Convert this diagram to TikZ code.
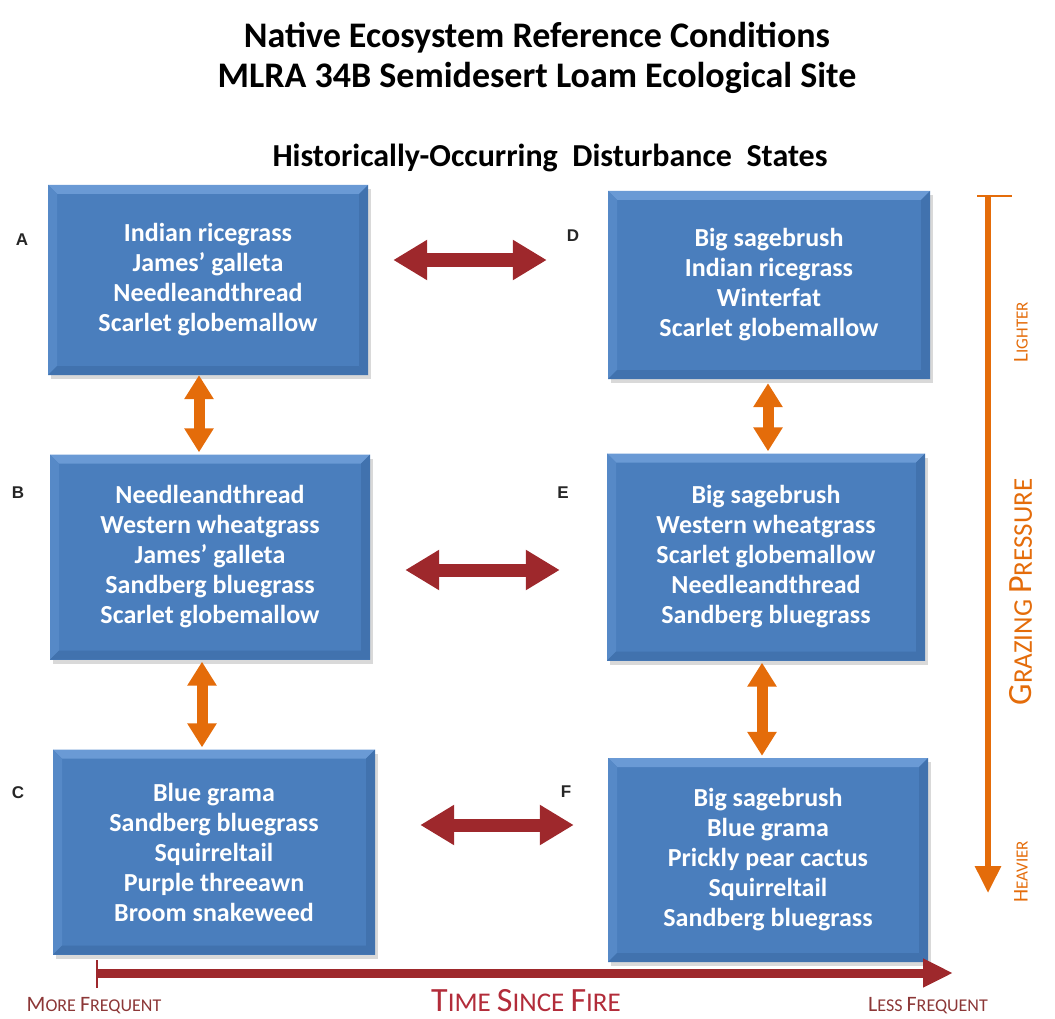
\documentclass[tikz,border=0pt]{standalone}
\usepackage{fontspec}
\setmainfont{Carlito}
\newfontfamily\letterfont{Liberation Sans}
\usetikzlibrary{arrows.meta, shadows, calc, positioning}

\definecolor{boxmid}{RGB}{74,126,189}
\definecolor{boxlight}{RGB}{106,154,213}
\definecolor{boxside}{RGB}{86,137,199}
\definecolor{boxdark}{RGB}{65,114,174}
\definecolor{firered}{RGB}{158,40,44}
\definecolor{firetext}{RGB}{178,44,58}
\definecolor{freqtext}{RGB}{140,55,55}
\definecolor{grazeorange}{RGB}{228,108,10}

% small caps by hand
\newcommand{\capword}[4]{{\fontsize{#1}{#1}\selectfont #3}{\fontsize{#2}{#2}\selectfont #4}}

\tikzset{
  statebox/.style={rectangle, fill=boxmid, text=white, align=center, inner sep=0pt,
    font=\bfseries\fontsize{26}{30}\selectfont,
    drop shadow={shadow xshift=3pt, shadow yshift=-4pt, opacity=0.3},
    path picture={
      \fill[boxlight] (path picture bounding box.north west) -- (path picture bounding box.north east)
        -- ([xshift=-9pt,yshift=-9pt]path picture bounding box.north east) -- ([xshift=9pt,yshift=-9pt]path picture bounding box.north west) -- cycle;
      \fill[boxside] (path picture bounding box.north west) -- (path picture bounding box.south west)
        -- ([xshift=9pt,yshift=9pt]path picture bounding box.south west) -- ([xshift=9pt,yshift=-9pt]path picture bounding box.north west) -- cycle;
      \fill[boxdark] (path picture bounding box.north east) -- (path picture bounding box.south east)
        -- ([xshift=-9pt,yshift=9pt]path picture bounding box.south east) -- ([xshift=-9pt,yshift=-9pt]path picture bounding box.north east) -- cycle;
      \fill[boxdark] (path picture bounding box.south west) -- (path picture bounding box.south east)
        -- ([xshift=-9pt,yshift=9pt]path picture bounding box.south east) -- ([xshift=9pt,yshift=9pt]path picture bounding box.south west) -- cycle;
    }},
  statelabel/.style={font=\letterfont\bfseries\fontsize{17}{17}\selectfont, text=black!85},
  firearrow/.style={draw=firered, line width=13pt, {Triangle[length=34pt,width=38pt]}-{Triangle[length=34pt,width=38pt]}},
  grazearrow/.style={draw=grazeorange, line width=11pt, {Triangle[length=24pt,width=28pt]}-{Triangle[length=24pt,width=28pt]}},
}

\begin{document}
\begin{tikzpicture}[x=1pt, y=-1pt]
    \useasboundingbox (0,0) rectangle (1055,1019);

    % titles
    \node[font=\bfseries\fontsize{36}{40}\selectfont, align=center] (title) at (537,58)
        {Native Ecosystem Reference Conditions\\MLRA 34B Semidesert Loam Ecological Site};
    \node[font=\bfseries\fontsize{32}{32}\selectfont] (subtitle) at (550,158)
        {Historically-Occurring\ \ Disturbance\ \ States};

    % states
    \node[statebox, minimum width=320pt, minimum height=190pt] (boxA) at (208,280)
        {Indian ricegrass\\James’ galleta\\Needleandthread\\Scarlet globemallow};
    \node[statebox, minimum width=320pt, minimum height=205pt] (boxB) at (210,557)
        {Needleandthread\\Western wheatgrass\\James’ galleta\\Sandberg bluegrass\\Scarlet globemallow};
    \node[statebox, minimum width=322pt, minimum height=205pt] (boxC) at (214,852)
        {Blue grama\\Sandberg bluegrass\\Squirreltail\\Purple threeawn\\Broom snakeweed};
    \node[statebox, minimum width=322pt, minimum height=188pt] (boxD) at (769,285)
        {Big sagebrush\\Indian ricegrass\\Winterfat\\Scarlet globemallow};
    \node[statebox, minimum width=318pt, minimum height=207pt] (boxE) at (766,557)
        {Big sagebrush\\Western wheatgrass\\Scarlet globemallow\\Needleandthread\\Sandberg bluegrass};
    \node[statebox, minimum width=320pt, minimum height=204pt] (boxF) at (768,860)
        {Big sagebrush\\Blue grama\\Prickly pear cactus\\Squirreltail\\Sandberg bluegrass};

    \node[statelabel] (labA) at (22,240) {A};
    \node[statelabel] (labB) at (18,493) {B};
    \node[statelabel] (labC) at (18,793) {C};
    \node[statelabel] (labD) at (573,236) {D};
    \node[statelabel] (labE) at (563,493) {E};
    \node[statelabel] (labF) at (566,792) {F};

    % fire transitions
    \draw[firearrow] ([xshift=25pt,yshift=20pt]boxA.east) -- ([xshift=-61pt,yshift=20pt]boxA.east -| boxD.west);
    \draw[firearrow] ([xshift=35pt,yshift=-13pt]boxB.east) -- ([xshift=-47pt,yshift=-13pt]boxB.east -| boxE.west);
    \draw[firearrow] ([xshift=45pt,yshift=27pt]boxC.east) -- ([xshift=-34pt,yshift=27pt]boxC.east -| boxF.west);

    % grazing transitions
    \draw[grazearrow] ([xshift=-9pt]boxA.south) -- ([xshift=-9pt,yshift=2pt]boxA.south |- boxB.north);
    \draw[grazearrow] ([xshift=-8pt,yshift=-2pt]boxB.south) -- ([xshift=-8pt,yshift=2pt]boxB.south |- boxC.north);
    \draw[grazearrow] ([xshift=-1pt,yshift=-4pt]boxD.south) -- ([xshift=-1pt,yshift=2pt]boxD.south |- boxE.north);
    \draw[grazearrow] ([xshift=-4pt,yshift=-2pt]boxE.south) -- ([xshift=-4pt,yshift=2pt]boxE.south |- boxF.north);

    % grazing pressure axis
    \coordinate (grazeTop) at (988,196);
    \coordinate (grazeEnd) at (988,893);
    \draw[grazeorange, line width=6pt, -{Triangle[length=27pt,width=25pt]}] (grazeTop) -- (grazeEnd);
    \draw[grazeorange, line width=2.5pt] ([xshift=-11pt]grazeTop) -- ([xshift=24pt]grazeTop);
    \node[rotate=90, text=grazeorange] (lighter) at (1021,332) {\capword{21}{17}{L}{IGHTER}};
    \node[rotate=90, text=grazeorange] (grazing) at (1021,592) {\capword{34}{27}{G}{RAZING }\capword{34}{27}{P}{RESSURE}};
    \node[rotate=90, text=grazeorange] (heavier) at (1021,872) {\capword{21}{17}{H}{EAVIER}};

    % time since fire axis
    \coordinate (fireStart) at (97,973);
    \coordinate (fireEnd) at (953,973);
    \draw[firered, line width=9pt, -{Triangle[length=30pt,width=27pt]}] (fireStart) -- (fireEnd);
    \draw[firered, line width=2.5pt] ([yshift=13pt]fireStart) -- ([yshift=-15pt]fireStart);
    \node[text=freqtext] (morefreq) at (94,1006) {\capword{22}{18}{M}{ORE }\capword{22}{18}{F}{REQUENT}};
    \node[text=firetext] (timefire) at (526,1001) {\capword{34}{27}{T}{IME }\capword{34}{27}{S}{INCE }\capword{34}{27}{F}{IRE}};
    \node[text=freqtext] (lessfreq) at (928,1006) {\capword{22}{18}{L}{ESS }\capword{22}{18}{F}{REQUENT}};
\end{tikzpicture}
\end{document}
